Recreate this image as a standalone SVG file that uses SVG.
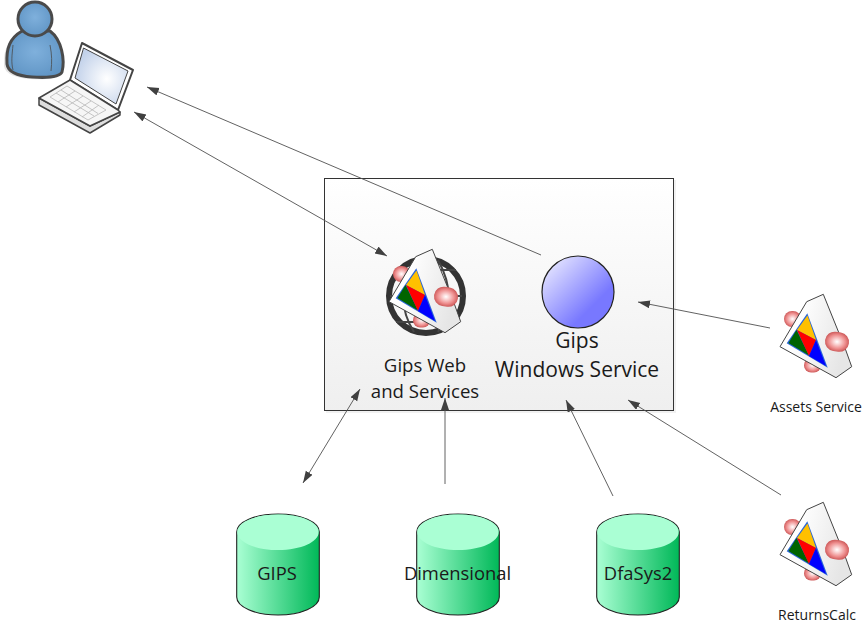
<svg xmlns="http://www.w3.org/2000/svg" xmlns:xlink="http://www.w3.org/1999/xlink" width="864" height="626" viewBox="0 0 864 626">
<style>
text{font-family:"Open Sans","Noto Sans",sans-serif;fill:#1a1a1a;text-anchor:middle}
.big{font-size:21px}.mid{font-size:18.6px}.db{font-size:18.4px}.sm{font-size:14px}
.c{fill:none;stroke:#505050;stroke-width:.9}
.cyl{stroke:#222;stroke-width:1.1}
</style>
<defs>
<marker id="a" markerUnits="userSpaceOnUse" markerWidth="13" markerHeight="10" refX="12" refY="4" orient="auto-start-reverse"><path d="M0 0L12 4L0 8z" fill="#404040"/></marker>
<linearGradient id="box" x1="0" y1="0" x2="0" y2="1"><stop offset="0" stop-color="#fff"/><stop offset="1" stop-color="#efefef"/></linearGradient>
<linearGradient id="cy" x1="0" y1="0" x2="1" y2="0"><stop offset="0" stop-color="#aaffd4"/><stop offset="1" stop-color="#00b858"/></linearGradient>
<linearGradient id="ball" x1="0.1" y1="0.1" x2="0.7" y2="0.7"><stop offset="0" stop-color="#e4e4ff"/><stop offset="1" stop-color="#7878ff"/></linearGradient>
<radialGradient id="pill"><stop offset="0" stop-color="#fff"/><stop offset="0.25" stop-color="#fbd8d8"/><stop offset="0.7" stop-color="#ee8e8e"/><stop offset="1" stop-color="#d05e5e"/></radialGradient>
<radialGradient id="body" cx="0.5" cy="0.45" r="0.6"><stop offset="0" stop-color="#7fb0dc"/><stop offset="1" stop-color="#5f94c4"/></radialGradient>
<radialGradient id="screen" cx="0.6" cy="0.55" r="0.6"><stop offset="0" stop-color="#fff"/><stop offset="1" stop-color="#c3d2ea"/></radialGradient>
<linearGradient id="card" x1="0" y1="0" x2="1" y2="0.3"><stop offset="0.3" stop-color="#fff"/><stop offset="1" stop-color="#e6e6e6"/></linearGradient>
<g id="pillsA">
<rect x="784" y="311" width="17" height="16" rx="8" fill="url(#pill)"/>
<rect x="804" y="358" width="17" height="14.500" rx="7" fill="url(#pill)"/>
</g>
<g id="cardA">
<polygon points="806.700,301.700 823.300,294.300 845,348 851.700,366.700 836,377.700 780,346.700" fill="url(#card)" stroke="#444" stroke-width="1"/>
<polygon points="807.300,313.300 786.700,343.300 827.700,367.700" fill="#2a66d8"/>
<polygon points="807.500,315.500 797,330 816,340" fill="#ffc000"/>
<polygon points="796.500,330 788.500,343 809,355.500" fill="#006400"/>
<polygon points="797,330 816,340 809,356" fill="#f00"/>
<polygon points="816,340 809,356 826,366" fill="#00f"/>
<rect x="825" y="332" width="24" height="19.500" rx="9.500" fill="url(#pill)" transform="rotate(8 837 341.700)"/>
</g>
</defs>
<rect width="864" height="626" fill="#fff"/>

<g id="server-box">
<rect x="326" y="180" width="350" height="233" fill="#e8e8e8" opacity=".6"/>
<rect x="324.500" y="178.500" width="349" height="232" fill="url(#box)" stroke="#333" stroke-width="1"/>
</g>

<g id="connectors">
<line class="c" x1="541" y1="255" x2="147" y2="87" marker-end="url(#a)"/>
<line class="c" x1="134" y1="112" x2="387" y2="256" marker-start="url(#a)" marker-end="url(#a)"/>
<line class="c" x1="770" y1="328" x2="638" y2="302" marker-end="url(#a)"/>
<line class="c" x1="781" y1="495" x2="628" y2="400" marker-end="url(#a)"/>
<line class="c" x1="613" y1="496" x2="566" y2="400" marker-end="url(#a)"/>
<line class="c" x1="445" y1="484" x2="445" y2="398" marker-end="url(#a)"/>
<line class="c" x1="303" y1="483" x2="360" y2="389" marker-start="url(#a)" marker-end="url(#a)"/>
</g>

<g id="user">
<path d="M20 33C8 40 3 50 4 66C5 74 16 78 30 79C44 80 56 79 59 74C62 62 59 42 46 33Z" fill="#e4e4e4"/>
<path d="M22 31C10 38 6 48 7 64C8 72 18 76 32 77C46 78 60 77 62 72C65 60 62 40 50 31Z" fill="url(#body)" stroke="#4a4a4a" stroke-width="3" stroke-linejoin="round"/>
<path d="M13 45C12 55 11 62 13 70M50 45C52 55 52 62 51 71" fill="none" stroke="#4a4a4a" stroke-width=".8"/>
<circle cx="35" cy="19" r="17" fill="url(#body)" stroke="#4a4a4a" stroke-width="3"/>
</g>

<g id="laptop">
<polygon points="82,43 133,70 118,110 70,80" fill="#fff" stroke="#444" stroke-width="2" stroke-linejoin="round"/>
<polygon points="83.500,48 128,71 116,104 75,78" fill="url(#screen)" stroke="#444" stroke-width="1"/>
<polygon points="39,105 90,133 120,115 120,112 90,126 39,98" fill="#dedede" stroke="#444" stroke-width="1.500" stroke-linejoin="round"/>
<polygon points="70,80 118,110 120,112 90,126 39,98" fill="#f6f6f6" stroke="#444" stroke-width="1.500" stroke-linejoin="round"/>
<path d="M67 86L50 97L88 120L106 110ZM61 90L98 113.500M56 93L94 116M75 91L58 102M83 96L66 107M91 101L74 112M99 105L82 117" fill="none" stroke="#b8b8b8" stroke-width=".8"/>
</g>

<g id="gips-web">
<circle cx="426" cy="296" r="37" fill="none" stroke="#333" stroke-width="6"/>
<path d="M396 270H456M390 296H462M396 322H456M414 260C400 285 400 310 414 332M438 260C452 285 452 310 438 332" fill="none" stroke="#444" stroke-width="2"/>
<use xlink:href="#pillsA" href="#pillsA" transform="translate(-391 -45)"/>
<use xlink:href="#cardA" href="#cardA" transform="translate(-391 -45)"/>
<text class="mid" x="425" y="372">Gips Web</text>
<text class="mid" x="425" y="398">and Services</text>
</g>

<g id="gips-windows">
<circle cx="578" cy="292" r="36" fill="url(#ball)" stroke="#222" stroke-width="1.200"/>
<text class="big" x="577" y="348">Gips</text>
<text class="big" x="577" y="377">Windows Service</text>
</g>

<g id="assets-service">
<use xlink:href="#pillsA" href="#pillsA"/>
<use xlink:href="#cardA" href="#cardA"/>
<text class="sm" x="816" y="412">Assets Service</text>
</g>

<g id="returns-calc">
<use xlink:href="#pillsA" href="#pillsA" transform="translate(0 208)"/>
<use xlink:href="#cardA" href="#cardA" transform="translate(0 208)"/>
<text class="sm" x="817" y="620">ReturnsCalc</text>
</g>

<g id="db-gips">
<path class="cyl" d="M236.700 532C236.700 522 255 514 278 514C301 514 319.300 522 319.300 532V597C319.300 607 301 615 278 615C255 615 236.700 607 236.700 597Z" fill="url(#cy)"/>
<path d="M237.300 532C237.300 522 255 514.600 278 514.600C301 514.600 318.700 522 318.700 532C318.700 542 301 550 278 550C255 550 237.300 542 237.300 532Z" fill="#aaffd4"/>
<text class="db" x="277" y="580">GIPS</text>
</g>
<g id="db-dimensional">
<path class="cyl" d="M416.700 532C416.700 522 435 514 458 514C481 514 499.300 522 499.300 532V597C499.300 607 481 615 458 615C435 615 416.700 607 416.700 597Z" fill="url(#cy)"/>
<path d="M417.300 532C417.300 522 435 514.600 458 514.600C481 514.600 498.700 522 498.700 532C498.700 542 481 550 458 550C435 550 417.300 542 417.300 532Z" fill="#aaffd4"/>
<text class="db" x="457.500" y="580">Dimensional</text>
</g>
<g id="db-dfasys2">
<path class="cyl" d="M596.700 532C596.700 522 615 514 638 514C661 514 679.300 522 679.300 532V597C679.300 607 661 615 638 615C615 615 596.700 607 596.700 597Z" fill="url(#cy)"/>
<path d="M597.300 532C597.300 522 615 514.600 638 514.600C661 514.600 678.700 522 678.700 532C678.700 542 661 550 638 550C615 550 597.300 542 597.300 532Z" fill="#aaffd4"/>
<text class="db" x="638" y="580">DfaSys2</text>
</g>
</svg>
